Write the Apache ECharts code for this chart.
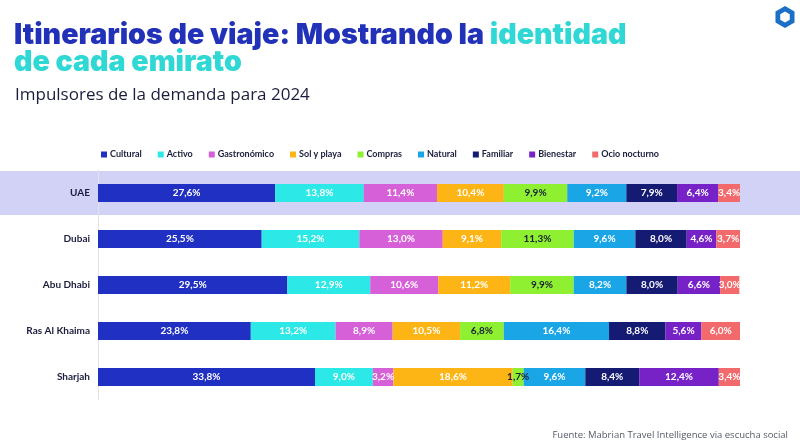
<!DOCTYPE html>
<html>
<head>
<meta charset="utf-8">
<script src="https://cdn.jsdelivr.net/npm/echarts@6/dist/echarts.min.js"></script>
<style>
html,body{margin:0;padding:0;background:#fff;}
#main{width:800px;height:444px;}
</style>
</head>
<body>
<div id="main"></div>
<script>
// datos
var emiratos = ['UAE', 'Dubai', 'Abu Dhabi', 'Ras Al Khaima', 'Sharjah'];
var motivos = ['Cultural', 'Activo', 'Gastronómico', 'Sol y playa', 'Compras', 'Natural', 'Familiar', 'Bienestar', 'Ocio nocturno'];
var cultural = [27.6, 25.5, 29.5, 23.8, 33.8];
var activo = [13.8, 15.2, 12.9, 13.2, 9.0];
var gastronomico = [11.4, 13.0, 10.6, 8.9, 3.2];
var solPlaya = [10.4, 9.1, 11.2, 10.5, 18.6];
var compras = [9.9, 11.3, 9.9, 6.8, 1.7];
var natural = [9.2, 9.6, 8.2, 16.4, 9.6];
var familiar = [7.9, 8.0, 8.0, 8.8, 8.4];
var bienestar = [6.4, 4.6, 6.6, 5.6, 12.4];
var ocio = [3.4, 3.7, 3.0, 6.0, 3.4];

var valores = [cultural, activo, gastronomico, solPlaya, compras, natural, familiar, bienestar, ocio];
var colores = ['#2030c2', '#2ce8e6', '#d660d8', '#fcb514', '#8ef030', '#1aa6e6', '#151a72', '#7622c6', '#f26a6c'];

// logo hexagonal
function hexPoints(cx, cy, r) {
	var pts = [];
	for (var i = 0; i < 6; i++) {
		var a = Math.PI / 3 * i - Math.PI / 2;
		pts.push([cx + r * Math.cos(a), cy + r * Math.sin(a)]);
	}
	return pts;
}

var chart = echarts.init(document.getElementById('main'));

var series = [];
for (var i = 0; i < motivos.length; i++) {
	series.push({
		name: motivos[i],
		type: 'bar',
		stack: 'total',
		barWidth: 18,
		data: valores[i],
		itemStyle: { color: colores[i] },
		label: {
			show: true,
			position: 'inside',
			fontFamily: 'Lato',
			fontWeight: 'bold',
			fontSize: 10,
			color: i === 4 ? '#1a1f3a' : '#ffffff',
			formatter: function(p){ return p.value.toFixed(1).replace('.', ',') + '%'; }
		}
	});
}

var option = {
	animation: false,
	backgroundColor: '#ffffff',
	title: [{
		left: 9,
		top: 17,
		text: '{a|Itinerarios de viaje: Mostrando la }{b|identidad}\n{b|de cada emirato}',
		textStyle: {
			rich: {
				a: { fontFamily: 'Inter', fontWeight: 900, fontSize: 28.6, color: '#2132b8', lineHeight: 27 },
				b: { fontFamily: 'Inter', fontWeight: 900, fontSize: 28.6, color: '#2fd8d4', lineHeight: 27 }
			}
		}
	}, {
		left: 10,
		top: 82,
		text: 'Impulsores de la demanda para 2024',
		textStyle: { fontFamily: 'Open Sans', fontWeight: 'normal', fontSize: 17, color: '#1b1d3c' }
	}, {
		right: 7,
		top: 425,
		text: 'Fuente: Mabrian Travel Intelligence via escucha social',
		textStyle: { fontFamily: 'Open Sans', fontWeight: 'normal', fontSize: 9.5, color: '#555a66' }
	}],
	legend: {
		left: 96,
		top: 145,
		icon: 'rect',
		itemWidth: 6,
		itemHeight: 6,
		itemGap: 16,
		data: motivos,
		textStyle: { fontFamily: 'Lato', fontWeight: 'bold', fontSize: 9, color: '#1b1d3c', padding: [0, 0, 0, -2] }
	},
	grid: { left: 98, right: 60, top: 170, height: 230 },
	xAxis: {
		type: 'value',
		min: 0,
		max: 100,
		show: false
	},
	yAxis: {
		type: 'category',
		inverse: true,
		data: emiratos,
		axisLine: { show: true, lineStyle: { color: '#dfe3ea' } },
		axisTick: { show: false },
		axisLabel: { fontFamily: 'Lato', fontWeight: 'bold', fontSize: 10, color: '#1b1d3c', margin: 8 }
	},
	graphic: [{
		type: 'rect',
		z: -10,
		shape: { x: 0, y: 171, width: 800, height: 44 },
		style: { fill: '#d2d2f6' }
	}, {
		type: 'polygon',
		shape: { points: hexPoints(785, 17, 11) },
		style: { fill: '#1b6fc6' }
	}, {
		type: 'polygon',
		shape: { points: hexPoints(785, 17, 5.5) },
		style: { fill: '#ffffff' }
	}],
	series: series
};
chart.setOption(option);
</script>
</body>
</html>
